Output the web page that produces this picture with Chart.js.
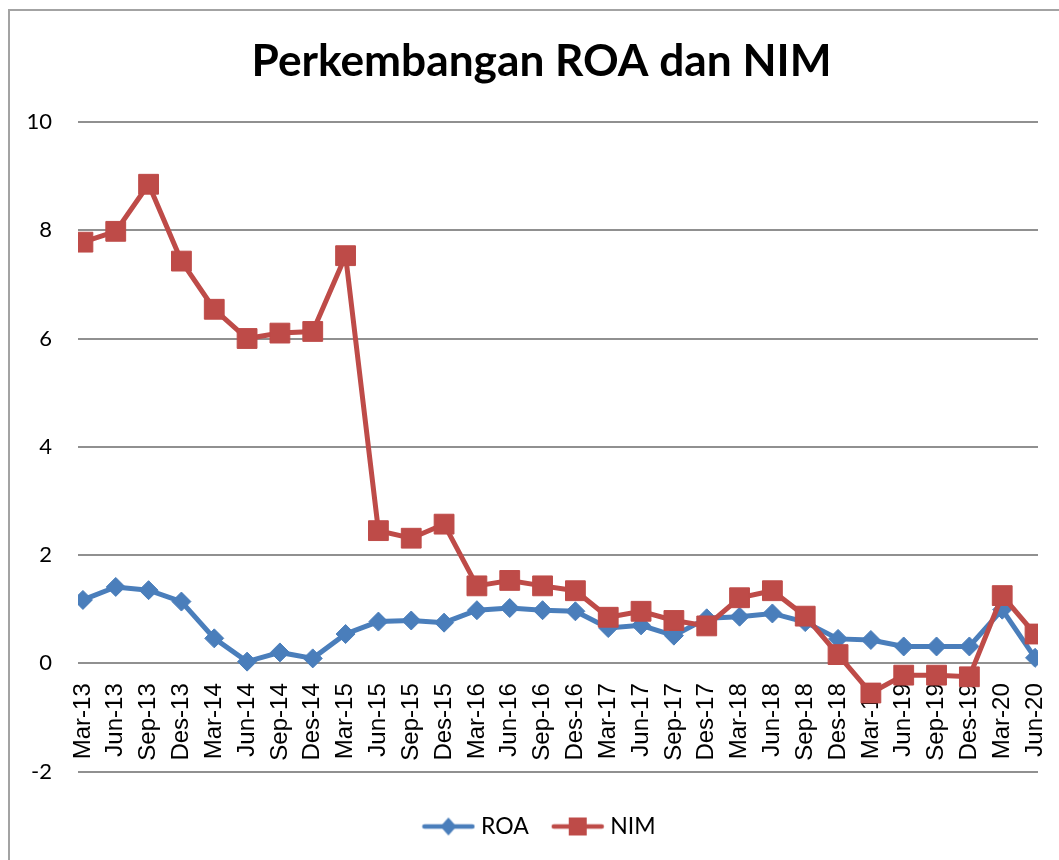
<!DOCTYPE html>
<html><head><meta charset="utf-8">
<script src="https://cdn.jsdelivr.net/npm/chart.js@4.4.1/dist/chart.umd.min.js"></script>
<style>
html,body{margin:0;padding:0;background:#fff;}
#wrap{position:relative;width:1059px;height:860px;overflow:hidden;background:#fff;}
#frame{position:absolute;left:8px;top:9px;width:1100px;height:900px;border-left:2px solid #a3a3a3;border-top:2px solid #a3a3a3;pointer-events:none;}
canvas{position:absolute;left:0;top:0;}
</style></head><body>
<div id="wrap"><canvas id="c" width="1059" height="860"></canvas><div id="frame"></div></div>
<script>
const titleText = 'Perkembangan ROA dan NIM';
const seriesNames = ['ROA', 'NIM'];
const categories = ['Mar-13','Jun-13','Sep-13','Des-13','Mar-14','Jun-14','Sep-14','Des-14',
  'Mar-15','Jun-15','Sep-15','Des-15','Mar-16','Jun-16','Sep-16','Des-16',
  'Mar-17','Jun-17','Sep-17','Des-17','Mar-18','Jun-18','Sep-18','Des-18',
  'Mar-19','Jun-19','Sep-19','Des-19','Mar-20','Jun-20'];
const roa = [1.17,1.41,1.35,1.14,0.46,0.03,0.20,0.09,
  0.54,0.77,0.79,0.75,0.98,1.02,0.98,0.96,
  0.65,0.70,0.51,0.83,0.86,0.92,0.76,0.45,
  0.43,0.31,0.31,0.31,0.99,0.10];
const nim = [7.78,7.98,8.85,7.43,6.54,6.00,6.10,6.13,
  7.53,2.45,2.31,2.57,1.43,1.53,1.43,1.34,
  0.85,0.96,0.79,0.69,1.21,1.34,0.87,0.16,
  -0.55,-0.22,-0.22,-0.25,1.25,0.54];
const yTicks = [-2,0,2,4,6,8,10];

const BLUE = '#4a7ebb', RED = '#be4b48';
const Y_FONT = { family: 'Lato, sans-serif', size: 22 };
const X_FONT = { family: '"Liberation Sans", Arial, sans-serif', size: 24 };

function toPoints(arr){ return arr.map((v,i)=>({x:i, y:v})); }

function legendIcon(color, shape){
  const c = document.createElement('canvas');
  c.width = 54; c.height = 22;
  const g = c.getContext('2d');
  g.strokeStyle = color; g.lineWidth = 4.5; g.lineCap = 'round';
  g.beginPath(); g.moveTo(3,11); g.lineTo(51,11); g.stroke();
  g.fillStyle = color;
  if (shape === 'diamond'){
    g.beginPath(); g.moveTo(27,2); g.lineTo(35,11); g.lineTo(27,20); g.lineTo(19,11); g.closePath(); g.fill();
  } else {
    g.fillRect(18,2,18,18);
  }
  return c;
}
const icons = [legendIcon(BLUE,'diamond'), legendIcon(RED,'square')];

const mctx = document.createElement('canvas').getContext('2d');
mctx.font = 'bold 100px Lato';
const titleSize = 100 * 580 / mctx.measureText(titleText).width;
const titleLH = titleSize * 1.2;
const titlePadTop = 52 - titleLH / 2;
const titlePadBottom = 112 - titlePadTop - titleLH;
mctx.font = '22px Lato, sans-serif';
const widestY = Math.max(...yTicks.map(v => mctx.measureText(String(v)).width));

const LEGEND_PAD = 28;

new Chart(document.getElementById('c'), {
  type: 'line',
  data: {
    datasets: [
      { label: seriesNames[0], data: toPoints(roa), borderColor: BLUE, backgroundColor: BLUE,
        borderWidth: 5, pointStyle: 'rectRot', pointRadius: 9.5, pointBorderWidth: 1,
        pointBackgroundColor: BLUE, pointBorderColor: BLUE, tension: 0, order: 1 },
      { label: seriesNames[1], data: toPoints(nim), borderColor: RED, backgroundColor: RED,
        borderWidth: 5, pointStyle: 'rect', pointRadius: 14, pointBorderWidth: 1,
        pointBackgroundColor: RED, pointBorderColor: RED, tension: 0, order: 0 }
    ]
  },
  options: {
    responsive: false,
    animation: false,
    events: [],
    layout: { padding: { left: 45, right: 21, top: 10, bottom: 12 } },
    scales: {
      x: {
        type: 'linear',
        position: { y: 0 },
        min: -0.15, max: 29.09,
        bounds: 'data',
        afterBuildTicks: (s) => { s.ticks = categories.map((c, i) => ({ value: i })); },
        afterFit: (s) => { s.height = 0; s.paddingLeft = 0; s.paddingRight = 0; },
        grid: { display: false, drawTicks: false },
        border: { display: false },
        ticks: {
          autoSkip: false, minRotation: 90, maxRotation: 90, padding: 20,
          color: '#000', font: X_FONT,
          callback: (v, i) => categories[i]
        }
      },
      y: {
        min: -2, max: 10,
        afterBuildTicks: (s) => { s.ticks = yTicks.map(v => ({ value: v })); },
        afterFit: (s) => { s.width = 33; },
        grid: { color: '#909090', lineWidth: 2, drawTicks: false },
        border: { display: false },
        ticks: { mirror: true, crossAlign: 'far', padding: -26 - widestY, color: '#000', font: Y_FONT }
      }
    },
    plugins: {
      tooltip: { enabled: false },
      title: {
        display: true, text: titleText, color: '#000',
        font: { family: 'Lato, sans-serif', weight: 'bold', size: titleSize, lineHeight: 1.2 },
        padding: { top: titlePadTop, bottom: titlePadBottom }
      },
      legend: {
        display: true, position: 'bottom',
        title: { display: true, text: '', padding: { top: 55 - 11.5 - LEGEND_PAD - 1, bottom: 0 }, font: { size: 1, lineHeight: 1 } },
        labels: {
          usePointStyle: true, pointStyleWidth: 42, padding: LEGEND_PAD, color: '#000',
          font: { family: 'Lato, sans-serif', size: 23 },
          generateLabels: (chart) => {
            const items = Chart.defaults.plugins.legend.labels.generateLabels(chart);
            items.forEach(it => { it.pointStyle = icons[it.datasetIndex]; });
            return items.sort((a, b) => a.datasetIndex - b.datasetIndex);
          }
        }
      }
    }
  }
});
</script>
</body></html>
